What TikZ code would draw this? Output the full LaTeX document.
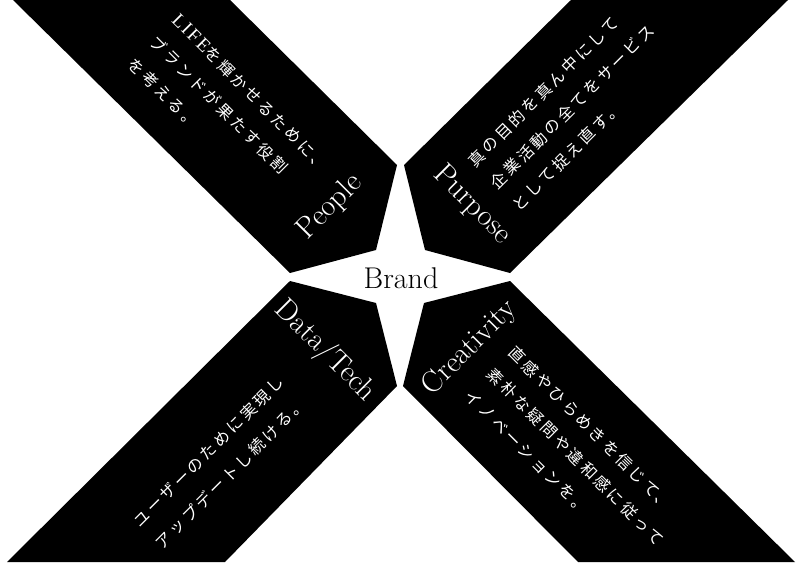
\documentclass[tikz,border=0pt]{standalone}
\usepackage{fontspec}
\newfontfamily\cjk[LetterSpace=18]{Noto Sans CJK JP}
\newfontfamily\lifefont[LetterSpace=10]{Liberation Serif}
\begin{document}
\begin{tikzpicture}[x=1pt,y=-1pt,
  bandfill/.style={fill=black},
  engtxt/.style={text=white, font={\fontsize{30pt}{36pt}\selectfont}, inner sep=0pt},
  jtext/.style={text=white, font={\cjk\fontsize{16pt}{31pt}\selectfont}, align=left, inner sep=0pt}]
\useasboundingbox (0,0) rectangle (800,562);
\fill[white] (0,0) rectangle (800,562);
% bands
\fill[bandfill] (13,0) -- (230,0) -- (397,165) -- (376,250) -- (290,273) -- cycle;
\fill[bandfill] (571,0) -- (788,0) -- (510,273) -- (425,250) -- (404,165) -- cycle;
\fill[bandfill] (290,281) -- (376,303) -- (397,386) -- (225,562) -- (7,562) -- cycle;
\fill[bandfill] (510,281) -- (795,562) -- (578,562) -- (403,386) -- (424,303) -- cycle;
% labels
\node[engtxt, rotate=45] (people) at (330,207) {People};
\node[engtxt, rotate=-45] (purpose) at (472,205) {Purpose};
\node[engtxt, rotate=-45] (datatech) at (325,351) {Data/Tech};
\node[engtxt, rotate=45] (creativity) at (470,348) {Creativity};
\node[font={\fontsize{30pt}{36pt}\selectfont}, anchor=base, inner sep=0pt] (brand) at (401,288) {Brand};
% japanese texts
\node[jtext, rotate=-45, anchor=west] (peopletxt) at (153,39) {{\lifefont\fontsize{19pt}{31pt}\selectfont LIFE}を輝かせるために、\\ブランドが果たす役割\\を考える。};
\node[jtext, rotate=45, anchor=west] (purposetxt) at (493,186) {真の目的を真ん中にして\\企業活動の全てをサービス\\として捉え直す。};
\node[jtext, rotate=45, anchor=west] (datatxt) at (147,535) {ユーザーのために実現し\\アップデートし続ける。};
\node[jtext, rotate=-45, anchor=west] (creativitytxt) at (490,371) {直感やひらめきを信じて、\\素朴な疑問や違和感に従って\\イノベーションを。};
\end{tikzpicture}
\end{document}
